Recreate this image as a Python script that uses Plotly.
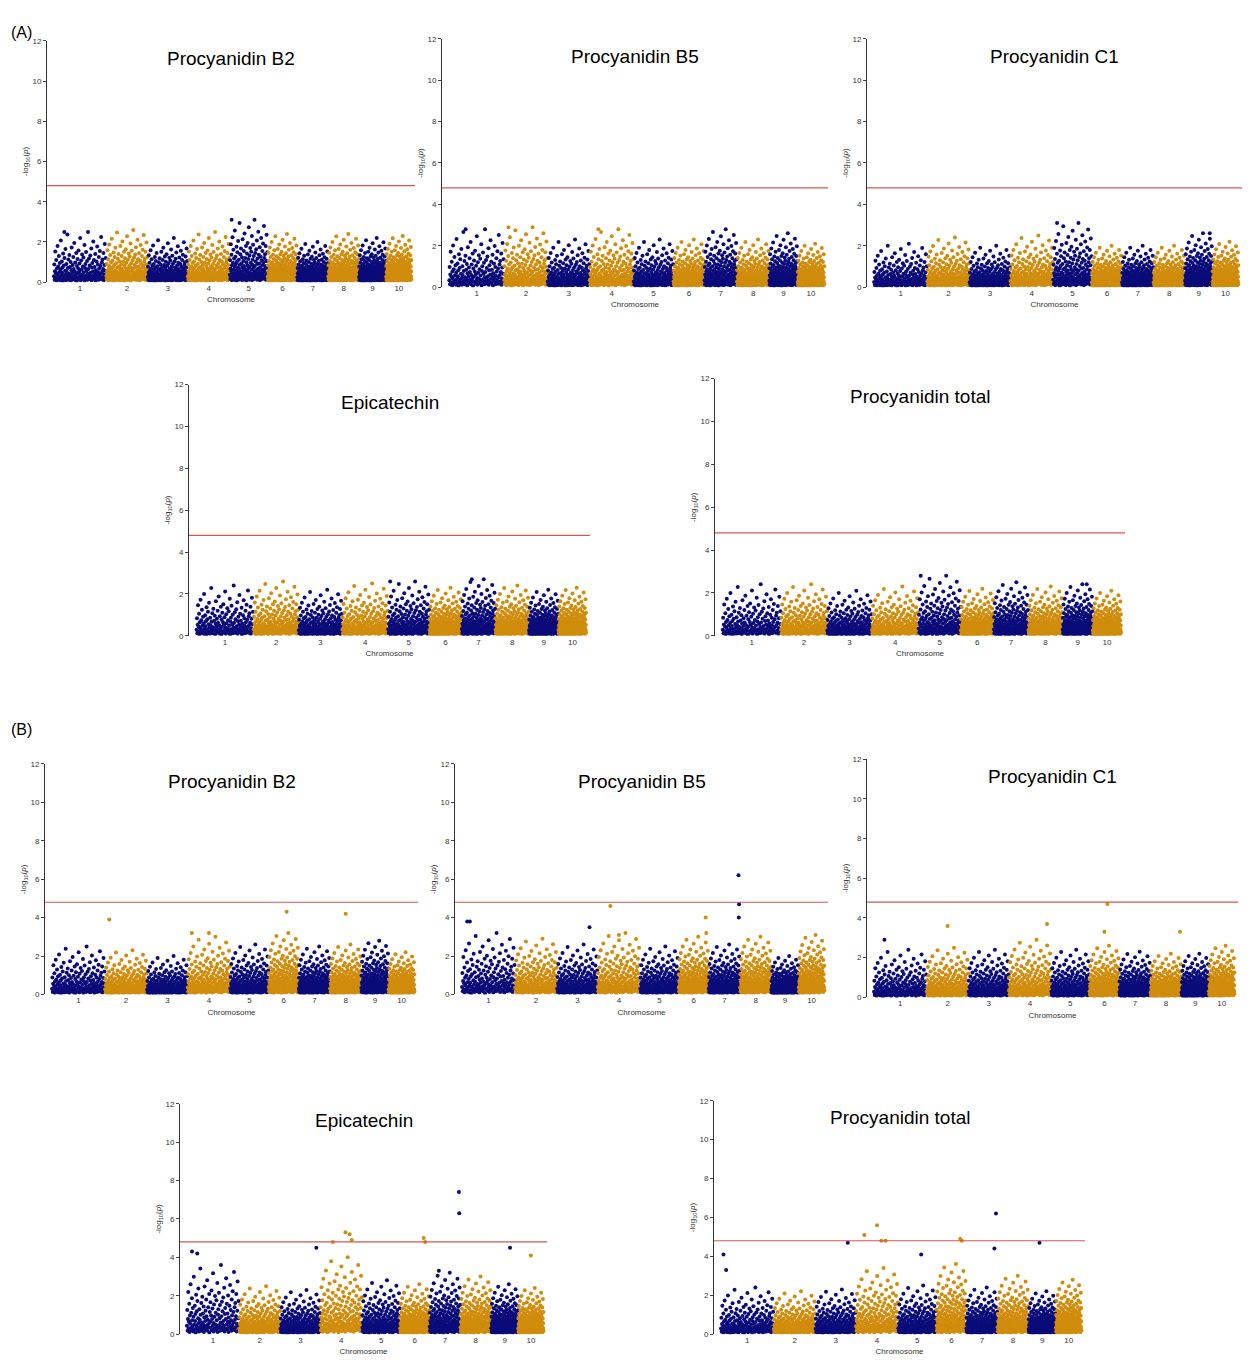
import plotly.graph_objects as go

# maize chromosome lengths (Mb)
chrom_len = [308, 244, 235, 247, 223, 174, 182, 181, 159, 150]
chrom_names = [str(i) for i in range(1, 11)]

# shared background profile of -log10(p) shapes (fraction of chromosome top)
background = [
    0.12, 0.35, 0.05, 0.22, 0.61, 0.08, 0.18, 0.44, 0.03, 0.27, 0.15, 0.72, 0.09, 0.31, 0.06, 0.52,
    0.20, 0.11, 0.38, 0.04, 0.25, 0.83, 0.14, 0.07, 0.41, 0.19, 0.29, 0.02, 0.57, 0.13, 0.33, 0.10,
    0.48, 0.06, 0.23, 0.66, 0.16, 0.04, 0.36, 0.21, 0.09, 0.95, 0.28, 0.12, 0.45, 0.05, 0.17, 0.54,
    0.08, 0.30, 0.14, 0.40, 0.03, 0.24, 0.69, 0.11, 0.19, 0.34, 0.07, 0.50, 0.26, 0.13, 0.78, 0.05,
    0.21, 0.39, 0.10, 0.15, 0.58, 0.02, 0.32, 0.18, 0.46, 0.09, 0.27, 0.63, 0.06, 0.22, 0.37, 0.12,
    0.88, 0.16, 0.04, 0.43, 0.25, 0.08, 0.55, 0.14, 0.31, 0.07, 0.49, 0.20, 0.11, 0.74, 0.03, 0.28,
    0.36, 0.13, 0.60, 0.09, 0.23, 0.42, 0.05, 0.17, 1.00, 0.26, 0.10, 0.47, 0.15, 0.33, 0.06, 0.53,
    0.19, 0.12, 0.67, 0.04, 0.29, 0.38, 0.08, 0.22, 0.81, 0.14, 0.44, 0.07, 0.30, 0.18, 0.56, 0.03,
    0.24, 0.11, 0.41, 0.16, 0.71, 0.09, 0.35, 0.20, 0.05, 0.50, 0.27, 0.13, 0.62, 0.08, 0.32, 0.17,
    0.90, 0.06, 0.39, 0.21, 0.45, 0.10, 0.26, 0.58, 0.04, 0.15, 0.34, 0.76, 0.12, 0.23, 0.48, 0.07,
]

panel_titles = ["Procyanidin B2", "Procyanidin B5", "Procyanidin C1", "Epicatechin", "Procyanidin total"] * 2

# per-chromosome background tops for each panel
chrom_tops = [
    [2.5, 2.6, 2.2, 2.5, 3.1, 2.4, 2.0, 2.4, 2.2, 2.3],
    [2.8, 2.9, 2.3, 2.8, 2.3, 2.3, 2.8, 2.3, 2.6, 2.1],
    [2.1, 2.4, 2.0, 2.5, 3.1, 2.0, 2.0, 2.0, 2.6, 2.2],
    [2.4, 2.6, 2.2, 2.5, 2.6, 2.3, 2.7, 2.4, 2.2, 2.3],
    [2.4, 2.4, 2.1, 2.3, 2.8, 2.2, 2.5, 2.3, 2.4, 2.1],
    [2.5, 2.3, 2.0, 3.0, 2.6, 3.2, 2.5, 2.6, 2.8, 2.2],
    [3.2, 2.9, 2.6, 3.2, 2.5, 3.0, 2.6, 3.0, 2.0, 3.1],
    [2.4, 2.5, 2.4, 2.9, 2.4, 2.6, 2.3, 2.2, 2.2, 2.6],
    [3.6, 2.5, 2.3, 4.0, 2.8, 2.6, 3.2, 3.0, 2.6, 2.4],
    [2.4, 2.2, 2.3, 3.4, 2.5, 3.6, 2.4, 3.0, 2.2, 2.8],
]

# notable peaks per panel: (chromosome, relative position, -log10 p)
peaks = [
    [(5, 0.05, 3.1), (1, 0.2, 2.5)],
    [(1, 0.3, 2.8), (2, 0.1, 2.9), (4, 0.2, 2.8)],
    [(5, 0.1, 3.1), (9, 0.9, 2.6)],
    [(7, 0.3, 2.7), (5, 0.05, 2.6)],
    [(5, 0.05, 2.8), (9, 0.8, 2.4)],
    [(2, 0.1, 3.9), (4, 0.1, 3.2), (4, 0.5, 3.2), (6, 0.6, 4.3), (8, 0.5, 4.2)],
    [(1, 0.1, 3.8), (1, 0.15, 3.8), (3, 0.8, 3.5), (4, 0.3, 4.6), (4, 0.5, 3.1),
     (6, 0.9, 4.0), (6, 0.92, 3.2), (7, 0.95, 6.2), (7, 0.97, 4.7), (7, 0.96, 4.0)],
    [(1, 0.2, 2.9), (2, 0.5, 3.6), (4, 0.9, 3.7), (6, 0.5, 3.3), (6, 0.6, 4.7), (8, 0.95, 3.3)],
    [(1, 0.1, 4.3), (1, 0.2, 4.2), (3, 0.9, 4.5), (4, 0.3, 4.8), (4, 0.6, 5.3), (4, 0.7, 5.2),
     (4, 0.75, 4.9), (6, 0.8, 5.0), (6, 0.85, 4.8), (7, 0.3, 3.3), (7, 0.95, 7.4), (7, 0.96, 6.3),
     (9, 0.7, 4.5), (10, 0.5, 4.1)],
    [(1, 0.05, 4.1), (1, 0.1, 3.3), (3, 0.8, 4.7), (4, 0.2, 5.1), (4, 0.5, 5.6), (4, 0.6, 4.8),
     (4, 0.7, 4.8), (5, 0.6, 4.1), (6, 0.8, 4.9), (6, 0.85, 4.8), (7, 0.95, 6.2), (7, 0.9, 4.4),
     (9, 0.4, 4.7)],
]

threshold = 4.8

# panel boxes in reference pixels: (x0, x1, ytop, ybottom)
boxes = [
    (47, 415, 37, 280), (442, 828, 35, 285), (867, 1248, 35, 285),
    (189, 590, 383, 636), (715, 1125, 377, 636),
    (45, 418, 765, 997), (455, 828, 765, 997), (867, 1238, 760, 1000),
    (180, 547, 1107, 1339), (714, 1085, 1104, 1339),
]

# page body margin shifts the figure by 8px
PAD = 8
W, H = 1234, 1354
navy = "#0b0b7a"
gold = "#d08c0c"


def fx(px):
    return min(max((px - PAD) / W, 0), 1)


def fy(py):
    return min(max(1 - (py - PAD) / H, 0), 1)


offsets = [0]
for L in chrom_len:
    offsets.append(offsets[-1] + L)
total = offsets[-1]
centers = [offsets[i] + chrom_len[i] / 2 for i in range(10)]

fig = go.Figure()
for p in range(10):
    ax = "" if p == 0 else str(p + 1)
    xs, ys, cs = [], [], []
    n = len(background)
    for c in range(10):
        col = navy if c % 2 == 0 else gold
        for k, v in enumerate(background):
            xs.append(offsets[c] + chrom_len[c] * (k + 0.5) / n)
            ys.append(v * chrom_tops[p][c])
            cs.append(col)
    for c, rel, v in peaks[p]:
        xs.append(offsets[c - 1] + chrom_len[c - 1] * rel)
        ys.append(v)
        cs.append(navy if (c - 1) % 2 == 0 else gold)
    fig.add_trace(go.Scatter(x=xs, y=ys, mode="markers", xaxis="x" + ax, yaxis="y" + ax,
                             marker=dict(size=4, color=cs), showlegend=False, hoverinfo="skip"))

    x0, x1, yt, yb = boxes[p]
    fig.update_layout({
        "xaxis" + ax: dict(domain=[fx(x0), fx(x1)], anchor="y" + ax, range=[-40, total + 20],
                           tickvals=centers, ticktext=chrom_names, showgrid=False, zeroline=False,
                           showline=False, ticks="", tickfont=dict(size=8, color="#333"),
                           title=dict(text="Chromosome", font=dict(size=8, color="#333"), standoff=4)),
        "yaxis" + ax: dict(domain=[fy(yb), fy(yt)], anchor="x" + ax, range=[0, 12],
                           tickvals=[0, 2, 4, 6, 8, 10, 12], showgrid=False, zeroline=False,
                           showline=True, linecolor="#333", ticks="outside", ticklen=3,
                           tickfont=dict(size=8, color="#333"),
                           title=dict(text="-log<sub>10</sub>(<i>p</i>)", font=dict(size=8, color="#333"), standoff=2)),
    })
    fig.add_shape(type="line", xref="x" + ax + " domain", yref="y" + ax, x0=0, x1=1,
                  y0=threshold, y1=threshold, line=dict(color="#d9534f", width=1.2))
    fig.add_annotation(text=panel_titles[p], xref="x" + ax + " domain", yref="y" + ax + " domain",
                       x=0.5, y=0.98, showarrow=False, font=dict(size=19, color="black"))

fig.add_annotation(text="(A)", xref="paper", yref="paper", x=fx(9), y=fy(18),
                   showarrow=False, xanchor="left", font=dict(size=16, color="black"))
fig.add_annotation(text="(B)", xref="paper", yref="paper", x=fx(9), y=fy(730),
                   showarrow=False, xanchor="left", font=dict(size=16, color="black"))

fig.update_layout(width=W, height=H, margin=dict(l=0, r=0, t=0, b=0),
                  plot_bgcolor="white", paper_bgcolor="white",
                  font=dict(family="Liberation Sans"))
fig.write_html("out.html")
